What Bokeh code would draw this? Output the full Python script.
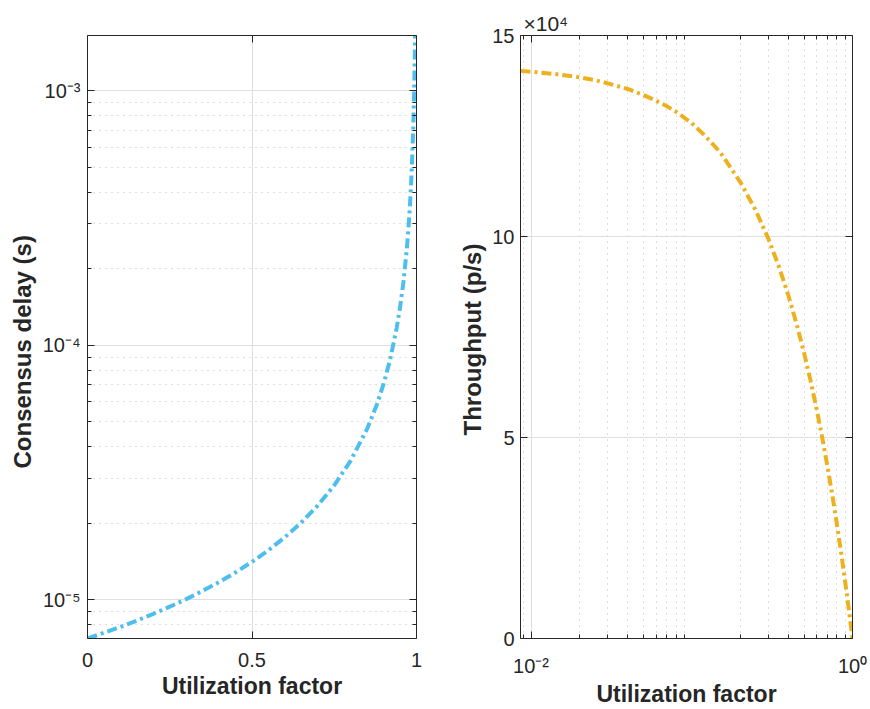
import math
from bokeh.plotting import figure
from bokeh.layouts import row
from bokeh.models import (Range1d, FixedTicker, LinearAxis, LogAxis, Title,
                          CustomJSTickFormatter)
from bokeh.embed import file_html
from bokeh.resources import INLINE

# ---------------- data ----------------
util_left = [0.0, 0.05, 0.1, 0.15, 0.2, 0.25, 0.3, 0.35, 0.4, 0.45, 0.5,
             0.55, 0.6, 0.65, 0.7, 0.75, 0.8, 0.85, 0.88, 0.9, 0.92, 0.94,
             0.95, 0.96, 0.97, 0.975, 0.98, 0.985, 0.99, 0.993, 0.995, 0.996]
delay_s = [7.05e-6, 7.42e-6, 7.83e-6, 8.29e-6, 8.81e-6, 9.40e-6, 1.007e-5,
           1.085e-5, 1.175e-5, 1.282e-5, 1.41e-5, 1.567e-5, 1.763e-5,
           2.014e-5, 2.35e-5, 2.82e-5, 3.525e-5, 4.70e-5, 5.875e-5, 7.05e-5,
           8.81e-5, 1.175e-4, 1.41e-4, 1.763e-4, 2.35e-4, 2.82e-4, 3.525e-4,
           4.70e-4, 7.05e-4, 1.007e-3, 1.41e-3, 1.763e-3]

util_right = [0.0086, 0.01, 0.012, 0.015, 0.02, 0.025, 0.03, 0.04, 0.05,
              0.06, 0.07, 0.08, 0.1, 0.12, 0.15, 0.2, 0.25, 0.3, 0.35, 0.4,
              0.45, 0.5, 0.55, 0.6, 0.65, 0.7, 0.75, 0.8, 0.85, 0.9, 0.95,
              0.98, 1.0]
throughput = [14.12e4, 14.10e4, 14.07e4, 14.03e4, 13.96e4, 13.89e4, 13.81e4,
              13.67e4, 13.52e4, 13.38e4, 13.24e4, 13.10e4, 12.82e4, 12.52e4,
              12.10e4, 11.36e4, 10.65e4, 9.94e4, 9.23e4, 8.52e4, 7.81e4,
              7.10e4, 6.39e4, 5.68e4, 4.97e4, 4.26e4, 3.55e4, 2.84e4, 2.13e4,
              1.42e4, 0.71e4, 0.28e4, 0.0]

left_x_ticks = [0.0, 0.5, 1.0]
left_x_labels = ["0", "0.5", "1"]
left_y_ticks = [1e-5, 1e-4, 1e-3]
left_y_labels = ["10\u207b\u2075", "10\u207b\u2074", "10\u207b\u00b3"]
left_y_minor = [7e-6, 8e-6, 9e-6,
                2e-5, 3e-5, 4e-5, 5e-5, 6e-5, 7e-5, 8e-5, 9e-5,
                2e-4, 3e-4, 4e-4, 5e-4, 6e-4, 7e-4, 8e-4, 9e-4]

right_x_ticks = [0.01, 1.0]
right_x_labels = ["10\u207b\u00b2", "10\u2070"]
right_x_minor = [0.009, 0.02, 0.03, 0.04, 0.05, 0.06, 0.07, 0.08, 0.09,
                 0.2, 0.3, 0.4, 0.5, 0.6, 0.7, 0.8, 0.9]
right_y_ticks = [0.0, 5e4, 10e4, 15e4]
right_y_labels = ["0", "5", "10", "15"]
right_y_scale = "\u00d710\u2074"

x_label = "Utilization factor"
left_y_label = "Consensus delay (s)"
right_y_label = "Throughput (p/s)"

# ---------------- style ----------------
AX = "#262626"
BLUE = "#4DBEEE"
ORANGE = "#EDB120"
MAJ_GRID = "#dfdfdf"
MIN_GRID = "#bdbdbd"
FONT = "Liberation Sans"
TICK_FS = "20px"
LAB_FS = "23px"
YLAB_FS = "24px"

FMT_CODE = """
for (let i = 0; i < t.length; i++) {
  const tol = 1e-6 * Math.max(Math.abs(t[i]), 1e-12);
  if (Math.abs(tick - t[i]) <= tol) return l[i];
}
return '';
"""


def fmt(ticks, labels):
    return CustomJSTickFormatter(args=dict(t=ticks, l=labels), code=FMT_CODE)


def style_axis(ax, ticker, formatter, standoff=0):
    ax.ticker = ticker
    ax.formatter = formatter
    ax.axis_line_color = AX
    ax.axis_line_width = 1
    ax.major_tick_line_color = AX
    ax.minor_tick_line_color = AX
    ax.major_tick_in = 7
    ax.major_tick_out = 0
    ax.minor_tick_in = 4
    ax.minor_tick_out = 0
    ax.major_label_standoff = standoff
    ax.major_label_text_font = FONT
    ax.major_label_text_font_size = TICK_FS
    ax.major_label_text_color = AX
    ax.axis_label_text_font = FONT
    ax.axis_label_text_font_size = LAB_FS
    ax.axis_label_text_font_style = "bold"
    ax.axis_label_text_color = AX


def side_title(p, text, place, offset, standoff, size=LAB_FS, bold=True,
               align="left"):
    p.add_layout(Title(text=text, align=align, offset=offset,
                       standoff=standoff, text_font=FONT,
                       text_font_size=size,
                       text_font_style="bold" if bold else "normal",
                       text_color=AX), place)


# ---------------- left panel ----------------
ly0, ly1 = 7.05e-6, 1.65e-3
p1 = figure(width=440, height=709, x_range=Range1d(0, 1),
            y_range=Range1d(ly0, ly1), y_axis_type="log",
            output_backend="svg", toolbar_location=None,
            min_border_left=87, min_border_right=24,
            min_border_top=35, min_border_bottom=71)
p1.outline_line_color = None
p1.background_fill_color = "white"
p1.border_fill_color = "white"

lx_t = FixedTicker(ticks=left_x_ticks, minor_ticks=[])
ly_t = FixedTicker(ticks=left_y_ticks, minor_ticks=left_y_minor)
style_axis(p1.xaxis[0], lx_t, fmt(left_x_ticks, left_x_labels), 14)
p1.xaxis[0].axis_label = x_label
p1.xaxis[0].axis_label_standoff = 3
style_axis(p1.yaxis[0], ly_t, fmt(left_y_ticks, left_y_labels), 7)
top1 = LinearAxis()
style_axis(top1, FixedTicker(ticks=left_x_ticks, minor_ticks=[]), fmt([], []))
p1.add_layout(top1, "above")
right1 = LogAxis()
style_axis(right1, FixedTicker(ticks=left_y_ticks, minor_ticks=left_y_minor),
           fmt([], []))
p1.add_layout(right1, "right")
# text starts (bottom end) about 170 px above the frame bottom
side_title(p1, left_y_label, "left", 170, 8, size=YLAB_FS)

p1.xgrid.ticker = lx_t
p1.ygrid.ticker = ly_t
for g in (p1.xgrid[0], p1.ygrid[0]):
    g.grid_line_color = MAJ_GRID
    g.grid_line_width = 1
p1.ygrid.minor_grid_line_color = MIN_GRID
p1.ygrid.minor_grid_line_dash = "1 5"
p1.ygrid.minor_grid_line_width = 1

p1.line(util_left, delay_s, line_color=BLUE, line_width=4,
        line_dash="10 4 3 4")

# ---------------- right panel ----------------
rx0, rx1 = 0.0086, 1.0
ry0, ry1 = 0.0, 15e4
p2 = figure(width=430, height=709, x_range=Range1d(rx0, rx1),
            y_range=Range1d(ry0, ry1), x_axis_type="log",
            output_backend="svg", toolbar_location=None,
            min_border_left=80, min_border_right=18,
            min_border_top=35, min_border_bottom=71)
p2.outline_line_color = None
p2.background_fill_color = "white"
p2.border_fill_color = "white"

rx_t = FixedTicker(ticks=right_x_ticks, minor_ticks=right_x_minor)
ry_t = FixedTicker(ticks=right_y_ticks, minor_ticks=[])
style_axis(p2.xaxis[0], rx_t, fmt(right_x_ticks, right_x_labels), 16)
p2.xaxis[0].axis_label = x_label
p2.xaxis[0].axis_label_standoff = 1
style_axis(p2.yaxis[0], ry_t, fmt(right_y_ticks, right_y_labels), 6)
top2 = LogAxis()
style_axis(top2, FixedTicker(ticks=right_x_ticks, minor_ticks=right_x_minor),
           fmt([], []))
p2.add_layout(top2, "above")
right2 = LinearAxis()
style_axis(right2, FixedTicker(ticks=right_y_ticks, minor_ticks=[]),
           fmt([], []))
p2.add_layout(right2, "right")
side_title(p2, right_y_label, "left", 203, 8, size=YLAB_FS)
side_title(p2, right_y_scale, "above", 3, 2, size="21px", bold=False)

p2.xgrid.ticker = rx_t
p2.ygrid.ticker = ry_t
for g in (p2.xgrid[0], p2.ygrid[0]):
    g.grid_line_color = MAJ_GRID
    g.grid_line_width = 1
p2.xgrid.minor_grid_line_color = MIN_GRID
p2.xgrid.minor_grid_line_dash = "1 5"
p2.xgrid.minor_grid_line_width = 1

p2.line(util_right, throughput, line_color=ORANGE, line_width=4,
        line_dash="10 4 3 4")

layout = row(p1, p2)
open("out.html", "w").write(file_html(layout, INLINE))
